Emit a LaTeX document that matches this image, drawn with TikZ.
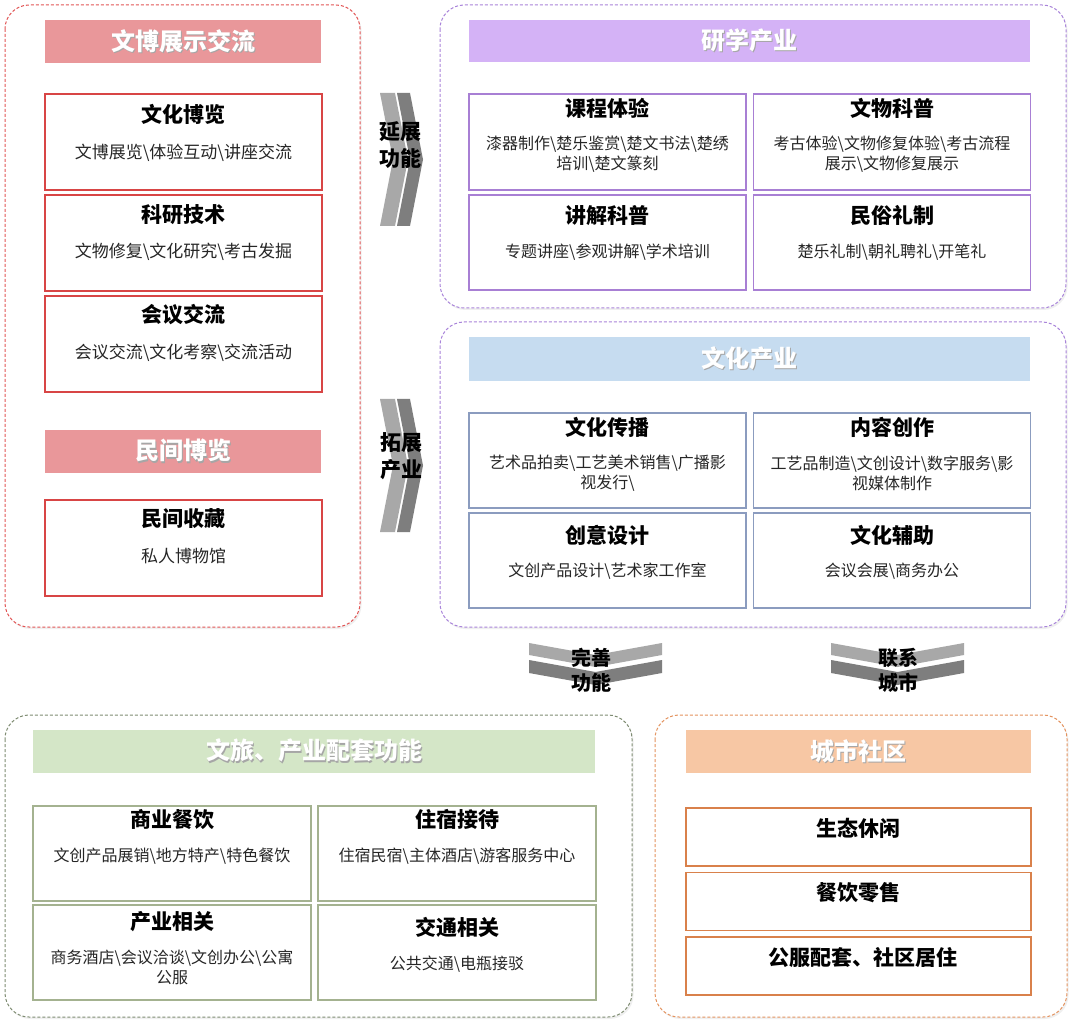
\documentclass[tikz,border=0pt]{standalone}
\usepackage{fontspec}
\setmainfont{Noto Sans CJK SC}
\usepackage{xcolor}
\usetikzlibrary{positioning, shadows}
\definecolor{redhd}{HTML}{E9979A}
\definecolor{redln}{HTML}{D84545}
\definecolor{redpn}{HTML}{E25555}
\definecolor{purhd}{HTML}{D4B2F6}
\definecolor{purln}{HTML}{A87FD4}
\definecolor{purpn}{HTML}{A984DA}
\definecolor{bluhd}{HTML}{C6DCF0}
\definecolor{bluln}{HTML}{8B9CBF}
\definecolor{grnhd}{HTML}{D4E6C7}
\definecolor{grnln}{HTML}{A4B290}
\definecolor{grnpn}{HTML}{7F8C72}
\definecolor{orahd}{HTML}{F7C7A4}
\definecolor{oraln}{HTML}{D9814B}
\definecolor{orapn}{HTML}{E4935F}
\definecolor{chevlt}{HTML}{A8A8A8}
\definecolor{chevdk}{HTML}{7E7E7E}
\newcommand{\bsl}{\textbackslash}
\newcommand{\shadowtxt}[1]{\makebox[0pt][l]{\hspace{1.3pt}\raisebox{-1.3pt}{\textcolor{black!35}{#1}}}\textcolor{white}{#1}}

\begin{document}
\begin{tikzpicture}[x=1pt, y=-1pt,
    panel/.style={rounded corners=24pt, dash pattern=on 3pt off 2pt, line width=1pt, fill=white,
      drop shadow={opacity=0.12, shadow xshift=1.5pt, shadow yshift=-2pt}},
    hdr/.style={rectangle, minimum height=43pt, inner sep=0pt, font=\fontsize{24}{27}\selectfont\bfseries},
    cbox/.style={rectangle, draw, line width=1.5pt, minimum width=277pt, minimum height=95pt, inner sep=0pt},
    ttl/.style={font=\fontsize{21}{24}\selectfont\bfseries, inner sep=0pt},
    sub/.style={font=\fontsize{16}{20}\selectfont, align=center, inner sep=0pt, text=black!85},
    chev/.style={font=\fontsize{21}{27}\selectfont\bfseries, align=center, inner sep=0pt}]
  \useasboundingbox[fill=white] (0,0) rectangle (1080,1032);

  % 文博展示交流
  \draw[panel, draw=redpn] (5,5) rectangle (360,627);
  \node[hdr, fill=redhd, minimum width=276pt] (hWB) at (183,42) {\shadowtxt{文博展示交流}};
  \node[cbox, draw=redln, minimum height=96pt] (bWH) at (183.5,142) {};
  \node[cbox, draw=redln, minimum height=96pt, below=3.5pt of bWH] (bKY) {};
  \node[cbox, draw=redln, minimum height=96pt, below=3.5pt of bKY] (bHY) {};
  \node[hdr, fill=redhd, minimum width=276pt] (hMJ) at (183,451.5) {\shadowtxt{民间博览}};
  \node[cbox, draw=redln, minimum height=96pt] (bSC) at (183.5,548) {};
  \node[ttl] (tWH) at ([yshift=-21pt]bWH.north) {文化博览};
  \node[sub, font=\fontsize{17}{20}\selectfont] (sWH) at ([yshift=-60pt]bWH.north) {文博展览\bsl 体验互动\bsl 讲座交流};
  \node[ttl] (tKY) at ([yshift=-20pt]bKY.north) {科研技术};
  \node[sub, font=\fontsize{17}{20}\selectfont] (sKY) at ([yshift=-58pt]bKY.north) {文物修复\bsl 文化研究\bsl 考古发掘};
  \node[ttl] (tHY) at ([yshift=-19pt]bHY.north) {会议交流};
  \node[sub, font=\fontsize{17}{20}\selectfont] (sHY) at ([yshift=-58pt]bHY.north) {会议交流\bsl 文化考察\bsl 交流活动};
  \node[ttl] (tSC) at ([yshift=-19pt]bSC.north) {民间收藏};
  \node[sub, font=\fontsize{17}{20}\selectfont] (sSC) at ([yshift=-57pt]bSC.north) {私人博物馆};

  % 研学产业
  \draw[panel, draw=purpn] (440,5) rectangle (1066,308);
  \node[hdr, fill=purhd, minimum width=561pt, minimum height=42pt] (hYX) at (749.5,41) {\shadowtxt{研学产业}};
  \node[cbox, draw=purln, minimum height=96pt] (bKC) at (607.5,142) {};
  \node[cbox, draw=purln, minimum height=96pt] (bWW) at (892,142) {};
  \node[cbox, draw=purln] (bJJ) at (607.5,242.5) {};
  \node[cbox, draw=purln] (bMS) at (892,242.5) {};
  \node[ttl] (tKC) at ([yshift=-15pt]bKC.north) {课程体验};
  \node[sub] (sKC) at ([yshift=-61pt]bKC.north) {漆器制作\bsl 楚乐鉴赏\bsl 楚文书法\bsl 楚绣\\培训\bsl 楚文篆刻};
  \node[ttl] (tWW) at ([yshift=-15pt]bWW.north) {文物科普};
  \node[sub] (sWW) at ([yshift=-61pt]bWW.north) {考古体验\bsl 文物修复体验\bsl 考古流程\\展示\bsl 文物修复展示};
  \node[ttl] (tJJ) at ([yshift=-21pt]bJJ.north) {讲解科普};
  \node[sub] (sJJ) at ([yshift=-58pt]bJJ.north) {专题讲座\bsl 参观讲解\bsl 学术培训};
  \node[ttl] (tMS) at ([yshift=-21pt]bMS.north) {民俗礼制};
  \node[sub] (sMS) at ([yshift=-58pt]bMS.north) {楚乐礼制\bsl 朝礼聘礼\bsl 开笔礼};

  % 文化产业
  \draw[panel, draw=purpn] (440,322) rectangle (1066,627);
  \node[hdr, fill=bluhd, minimum width=561pt, minimum height=44pt] (hWC) at (749.5,359) {\shadowtxt{文化产业}};
  \node[cbox, draw=bluln] (bCB) at (607.5,460.5) {};
  \node[cbox, draw=bluln] (bNR) at (892,460.5) {};
  \node[cbox, draw=bluln] (bCY) at (607.5,560.5) {};
  \node[cbox, draw=bluln] (bFZ) at (892,560.5) {};
  \node[ttl] (tCB) at ([yshift=-15pt]bCB.north) {文化传播};
  \node[sub] (sCB) at ([yshift=-61pt]bCB.north) {艺术品拍卖\bsl 工艺美术销售\bsl 广播影\\视发行\bsl};
  \node[ttl] (tNR) at ([yshift=-15pt]bNR.north) {内容创作};
  \node[sub] (sNR) at ([yshift=-61pt]bNR.north) {工艺品制造\bsl 文创设计\bsl 数字服务\bsl 影\\视媒体制作};
  \node[ttl] (tCY) at ([yshift=-23pt]bCY.north) {创意设计};
  \node[sub] (sCY) at ([yshift=-59pt]bCY.north) {文创产品设计\bsl 艺术家工作室};
  \node[ttl] (tFZ) at ([yshift=-23pt]bFZ.north) {文化辅助};
  \node[sub] (sFZ) at ([yshift=-59pt]bFZ.north) {会议会展\bsl 商务办公};

  % 文旅、产业配套功能
  \draw[panel, draw=grnpn] (5,715) rectangle (632,1017);
  \node[hdr, fill=grnhd, minimum width=562pt] (hPT) at (314,751.5) {\shadowtxt{文旅、产业配套功能}};
  \node[cbox, draw=grnln, minimum width=278pt] (bSY) at (172,853.5) {};
  \node[cbox, draw=grnln, minimum width=278pt] (bZS) at (457,853.5) {};
  \node[cbox, draw=grnln, minimum width=278pt] (bCX) at (172,952.5) {};
  \node[cbox, draw=grnln, minimum width=278pt] (bJT) at (457,952.5) {};
  \node[ttl] (tSY) at ([yshift=-14pt]bSY.north) {商业餐饮};
  \node[sub] (sSY) at ([yshift=-51pt]bSY.north) {文创产品展销\bsl 地方特产\bsl 特色餐饮};
  \node[ttl] (tZS) at ([yshift=-14pt]bZS.north) {住宿接待};
  \node[sub] (sZS) at ([yshift=-51pt]bZS.north) {住宿民宿\bsl 主体酒店\bsl 游客服务中心};
  \node[ttl] (tCX) at ([yshift=-17pt]bCX.north) {产业相关};
  \node[sub] (sCX) at ([yshift=-63pt]bCX.north) {商务酒店\bsl 会议洽谈\bsl 文创办公\bsl 公寓\\公服};
  \node[ttl] (tJT) at ([yshift=-23pt]bJT.north) {交通相关};
  \node[sub] (sJT) at ([yshift=-60pt]bJT.north) {公共交通\bsl 电瓶接驳};

  % 城市社区
  \draw[panel, draw=orapn] (655,715) rectangle (1067,1017);
  \node[hdr, fill=orahd, minimum width=345pt] (hCS) at (858.5,751.5) {\shadowtxt{城市社区}};
  \node[cbox, draw=oraln, minimum width=345pt, minimum height=58pt] (bST) at (858.5,837) {};
  \node[cbox, draw=oraln, minimum width=345pt, minimum height=58pt] (bCY2) at (858.5,901.5) {};
  \node[cbox, draw=oraln, minimum width=345pt, minimum height=58pt] (bGF) at (858.5,966) {};
  \node[ttl] (tST) at ([yshift=-21pt]bST.north) {生态休闲};
  \node[ttl] (tCY2) at ([yshift=-21pt]bCY2.north) {餐饮零售};
  \node[ttl] (tGF) at ([yshift=-21pt,xshift=4pt]bGF.north) {公服配套、社区居住};

  % chevrons
  \fill[chevlt] (380,93) -- (395,93) -- (408,159.5) -- (395,226) -- (380,226) -- (393,159.5) -- cycle;
  \fill[chevdk] (397,93) -- (410,93) -- (423,159.5) -- (410,226) -- (397,226) -- (410,159.5) -- cycle;
  \node[chev] (cYZ) at (400,145) {延展\\功能};
  \fill[chevlt] (380,399) -- (395,399) -- (408,465.5) -- (395,532) -- (380,532) -- (393,465.5) -- cycle;
  \fill[chevdk] (397,399) -- (410,399) -- (423,465.5) -- (410,532) -- (397,532) -- (410,465.5) -- cycle;
  \node[chev] (cTZ) at (401,456) {拓展\\产业};
  \fill[chevlt] (529,643) -- (595.5,655) -- (662,643) -- (662,655) -- (595.5,667) -- (529,655) -- cycle;
  \fill[chevdk] (529,660) -- (595.5,672) -- (662,660) -- (662,673) -- (595.5,685) -- (529,673) -- cycle;
  \node[chev, font=\fontsize{20}{25}\selectfont\bfseries] (cWS) at (591,670.5) {完善\\功能};
  \fill[chevlt] (831,643) -- (897.5,655) -- (964,643) -- (964,655) -- (897.5,667) -- (831,655) -- cycle;
  \fill[chevdk] (831,660) -- (897.5,672) -- (964,660) -- (964,673) -- (897.5,685) -- (831,673) -- cycle;
  \node[chev, font=\fontsize{20}{25}\selectfont\bfseries] (cLX) at (898,670.5) {联系\\城市};
\end{tikzpicture}
\end{document}
